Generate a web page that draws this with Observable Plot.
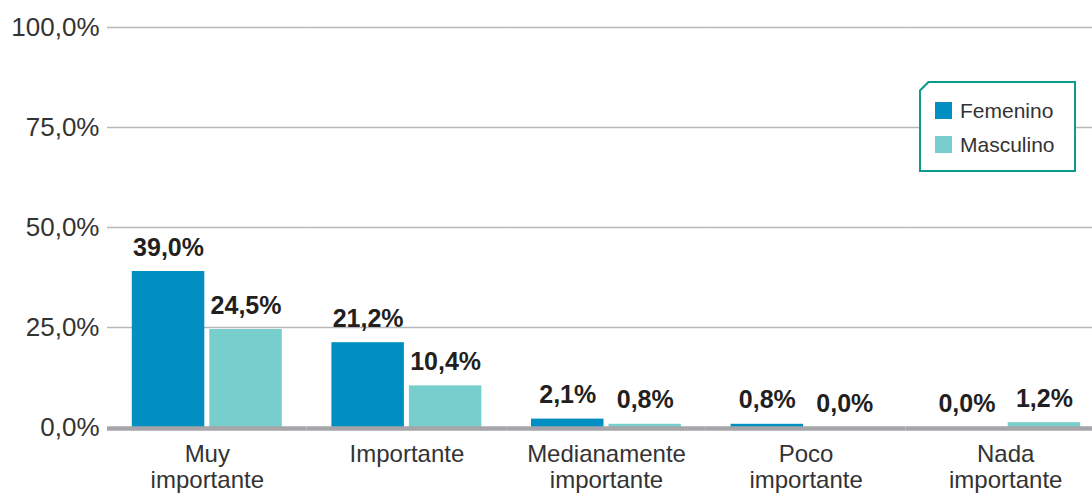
<!DOCTYPE html>
<html>
<head>
<meta charset="utf-8">
<script src="https://cdn.jsdelivr.net/npm/d3@7"></script>
<script src="https://cdn.jsdelivr.net/npm/@observablehq/plot@0.6"></script>
<style>
  html, body { margin: 0; padding: 0; background: #fff; overflow: hidden; }
  #wrap { position: relative; width: 1092px; height: 494px; overflow: hidden; }
  #legend {
    position: absolute; left: 919px; top: 81px; width: 157px; height: 91px;
    background: #0b9a8b;
    clip-path: polygon(9px 0, 100% 0, 100% 100%, 0 100%, 0 9px);
  }
  #legend .inner {
    position: absolute; left: 2px; top: 2px; right: 2px; bottom: 2px; background: #fff;
    clip-path: polygon(8px 0, 100% 0, 100% 100%, 0 100%, 0 8px);
    font-family: "Liberation Sans", Arial, sans-serif; font-size: 21px; color: #333;
  }
  #legend .item { position: absolute; left: 14px; height: 17px; line-height: 17px; white-space: nowrap; }
  #legend .sw { display: inline-block; width: 17px; height: 17px; vertical-align: top; margin-right: 8px; }
</style>
</head>
<body>
<div id="wrap"></div>
<script>
const categories = ["Muy importante", "Importante", "Medianamente importante", "Poco importante", "Nada importante"];
const categoryLabels = ["Muy\nimportante", "Importante", "Medianamente\nimportante", "Poco\nimportante", "Nada\nimportante"];
const series = ["Femenino", "Masculino"];
const femenino = [39.0, 21.2, 2.1, 0.8, 0.0];
const masculino = [24.5, 10.4, 0.8, 0.0, 1.2];
const yTicks = [0, 25, 50, 75, 100];
const colors = ["#008fc0", "#78cdcd"];

const values = {Femenino: femenino, Masculino: masculino};
const data = categories.flatMap((c, i) => series.map(s => ({cat: c, sex: s, value: values[s][i]})));
const fmt = v => v.toFixed(1).replace(".", ",") + "%";
const catLabel = c => categoryLabels[categories.indexOf(c)];

const chart = Plot.plot({
  width: 1092,
  height: 494,
  marginLeft: 107,
  marginRight: -13,
  marginTop: 27,
  marginBottom: 67,
  style: {fontFamily: "'Liberation Sans', Arial, sans-serif", color: "#333", background: "#fff", overflow: "hidden"},
  fx: {domain: categories, padding: 0, label: null, round: false},
  x: {domain: series, paddingInner: 5 / 77.5, paddingOuter: 0.32, axis: null, round: false},
  y: {domain: [0, 100], label: null},
  color: {domain: series, range: colors},
  marks: [
    Plot.ruleY(yTicks.filter(d => d > 0), {stroke: "#b8b8b8", strokeWidth: 1.3}),
    Plot.barY(data, {fx: "cat", x: "sex", y: "value", fill: "sex"}),
    Plot.ruleY([0], {stroke: "#a6a6aa", strokeWidth: 4.5, dy: 1}),
    Plot.text(data, {
      fx: "cat", x: "sex", y: "value", text: d => fmt(d.value),
      lineAnchor: "bottom", dy: -16, fontSize: 25, fontWeight: "bold", fill: "#231f20"
    }),
    Plot.axisY(yTicks, {tickFormat: fmt, tickSize: 0, tickPadding: 8, fontSize: 26, fill: "#333", label: null}),
    Plot.axisFx({anchor: "bottom", tickFormat: catLabel, tickSize: 0, tickPadding: 17, fontSize: 24, lineHeight: 1.05, fill: "#333", label: null})
  ]
});

const wrap = document.getElementById("wrap");
wrap.appendChild(chart);

const legend = document.createElement("div");
legend.id = "legend";
const inner = document.createElement("div");
inner.className = "inner";
series.forEach((s, i) => {
  const item = document.createElement("div");
  item.className = "item";
  item.style.top = (19 + i * 34) + "px";
  const sw = document.createElement("span");
  sw.className = "sw";
  sw.style.background = colors[i];
  item.appendChild(sw);
  item.appendChild(document.createTextNode(s));
  inner.appendChild(item);
});
legend.appendChild(inner);
wrap.appendChild(legend);
</script>
</body>
</html>
